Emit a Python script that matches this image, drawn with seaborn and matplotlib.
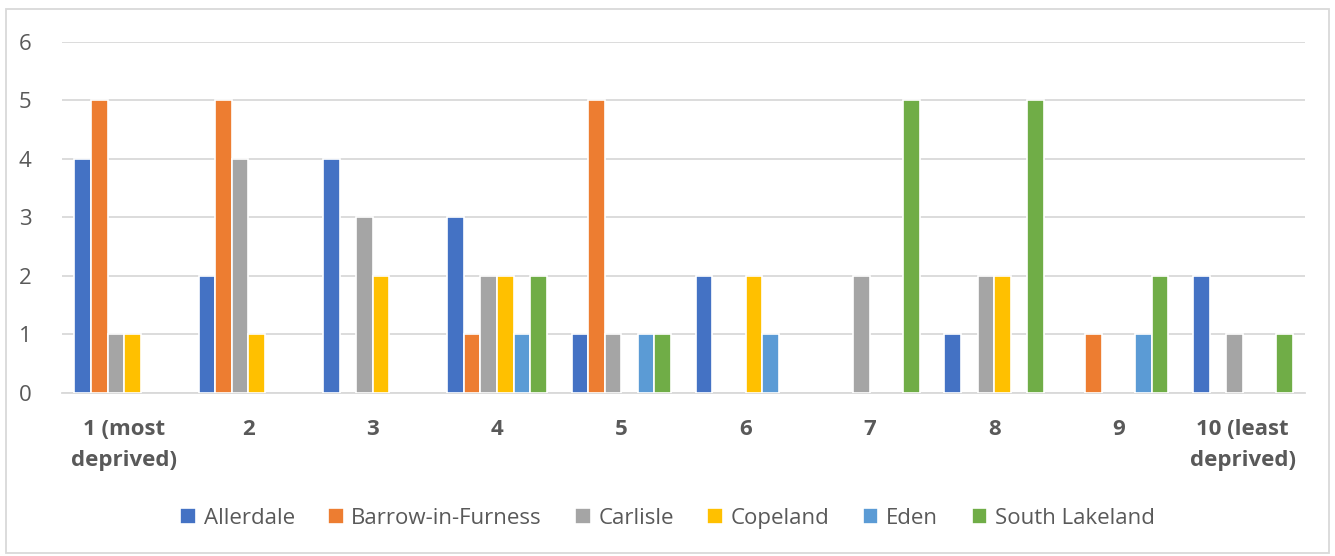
import numpy as np
import pandas as pd
import seaborn as sns
import matplotlib.pyplot as plt
from matplotlib.patches import Rectangle

deciles = ['1 (most\ndeprived)', '2', '3', '4', '5', '6', '7', '8', '9', '10 (least\ndeprived)']
districts = ['Allerdale', 'Barrow-in-Furness', 'Carlisle', 'Copeland', 'Eden', 'South Lakeland']

allerdale = [4, 2, 4, 3, 1, 2, 0, 1, 0, 2]
barrow = [5, 5, 0, 1, 5, 0, 0, 0, 1, 0]
carlisle = [1, 4, 3, 2, 1, 0, 2, 2, 0, 1]
copeland = [1, 1, 2, 2, 0, 2, 0, 2, 0, 0]
eden = [0, 0, 0, 1, 1, 1, 0, 0, 1, 0]
south_lakeland = [0, 0, 0, 2, 1, 0, 5, 5, 2, 1]

colors = ['#4472C4', '#ED7D31', '#A5A5A5', '#FFC000', '#5B9BD5', '#70AD47']

series = [allerdale, barrow, carlisle, copeland, eden, south_lakeland]
rows = []
for name, vals in zip(districts, series):
    for dec, v in zip(deciles, vals):
        rows.append({'decile': dec, 'district': name, 'count': v})
df = pd.DataFrame(rows)

sns.set_style('white')
plt.rcParams['font.family'] = ['Open Sans', 'DejaVu Sans']

fig = plt.figure(figsize=(13.35, 5.56), dpi=100)
ax = fig.add_axes([0.0464, 0.2932, 0.9311, 0.6313])

sns.barplot(data=df, x='decile', y='count', hue='district', order=deciles,
            hue_order=districts, palette=colors, saturation=1, width=0.8, ax=ax,
            edgecolor='white', linewidth=1.2, errorbar=None, zorder=3)

# zero-height bars would leave a white tick on the axis line
for cont in ax.containers:
    for p in cont:
        if p.get_height() == 0:
            p.set_visible(False)

ax.set_ylim(0, 6)
ax.set_xlim(-0.5, len(deciles) - 0.5)
ax.set_yticks(range(7))
ax.yaxis.grid(True, color='#D9D9D9', linewidth=1.3, zorder=0)
ax.set_axisbelow(True)
for s in ['top', 'right', 'left']:
    ax.spines[s].set_visible(False)
ax.spines['bottom'].set_color('#D9D9D9')
ax.spines['bottom'].set_linewidth(1.3)
ax.tick_params(axis='both', length=0, labelsize=16, labelcolor='#595959')
ax.tick_params(axis='x', pad=19)
ax.tick_params(axis='y', pad=22)
for lab in ax.get_xticklabels():
    lab.set_fontweight('bold')
    lab.set_linespacing(1.6)
ax.set_xlabel('')
ax.set_ylabel('')

ax.legend(loc='center', bbox_to_anchor=(0.5, 0.068), bbox_transform=fig.transFigure,
          ncol=6, frameon=False, fontsize=16, handlelength=0.7, handleheight=0.7,
          handletextpad=0.35, columnspacing=1.5, labelcolor='#595959')

fig.patches.append(Rectangle((0.0045, 0.006), 0.991, 0.978, transform=fig.transFigure,
                             fill=False, edgecolor='#D9D9D9', linewidth=1.3))

fig.savefig('out.png', dpi=100)
